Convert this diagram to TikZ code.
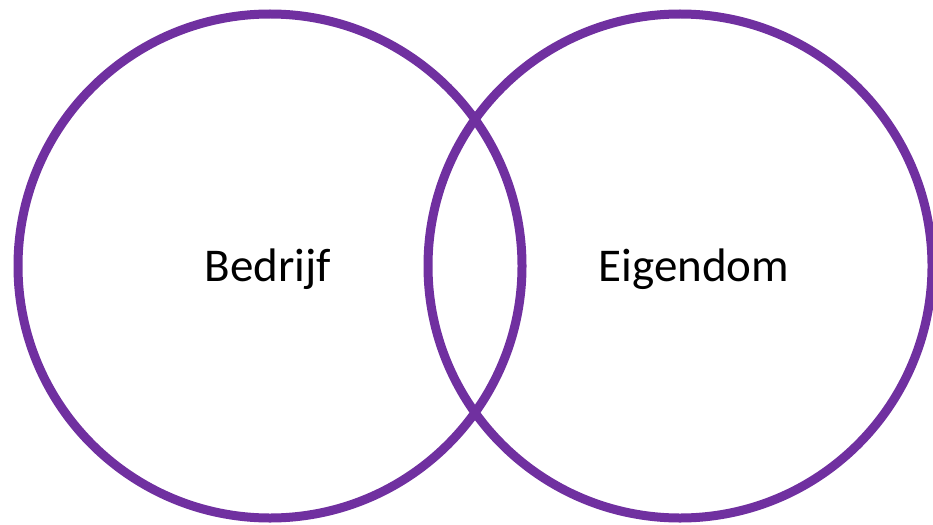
\documentclass[tikz,border=0pt]{standalone}
\usepackage{fontspec}
\setmainfont{Carlito}
\definecolor{vpurple}{HTML}{7030A0}
\begin{document}
\begin{tikzpicture}[x=1pt,y=-1pt,
  ring/.style={draw=vpurple,line width=9pt,circle,minimum size=504pt,inner sep=0pt},
  lbl/.style={font=\fontsize{47}{56}\selectfont,anchor=base,inner sep=0pt}]
\useasboundingbox (0,0) rectangle (933,524);
\node[ring] (left) at (270,266) {};
\node[ring] (right) at (680,266) {};
\node[lbl] (bedrijf) at (268,281) {Bedrijf};
\node[lbl] (eigendom) at (694,281) {Eigendom};
\end{tikzpicture}
\end{document}
